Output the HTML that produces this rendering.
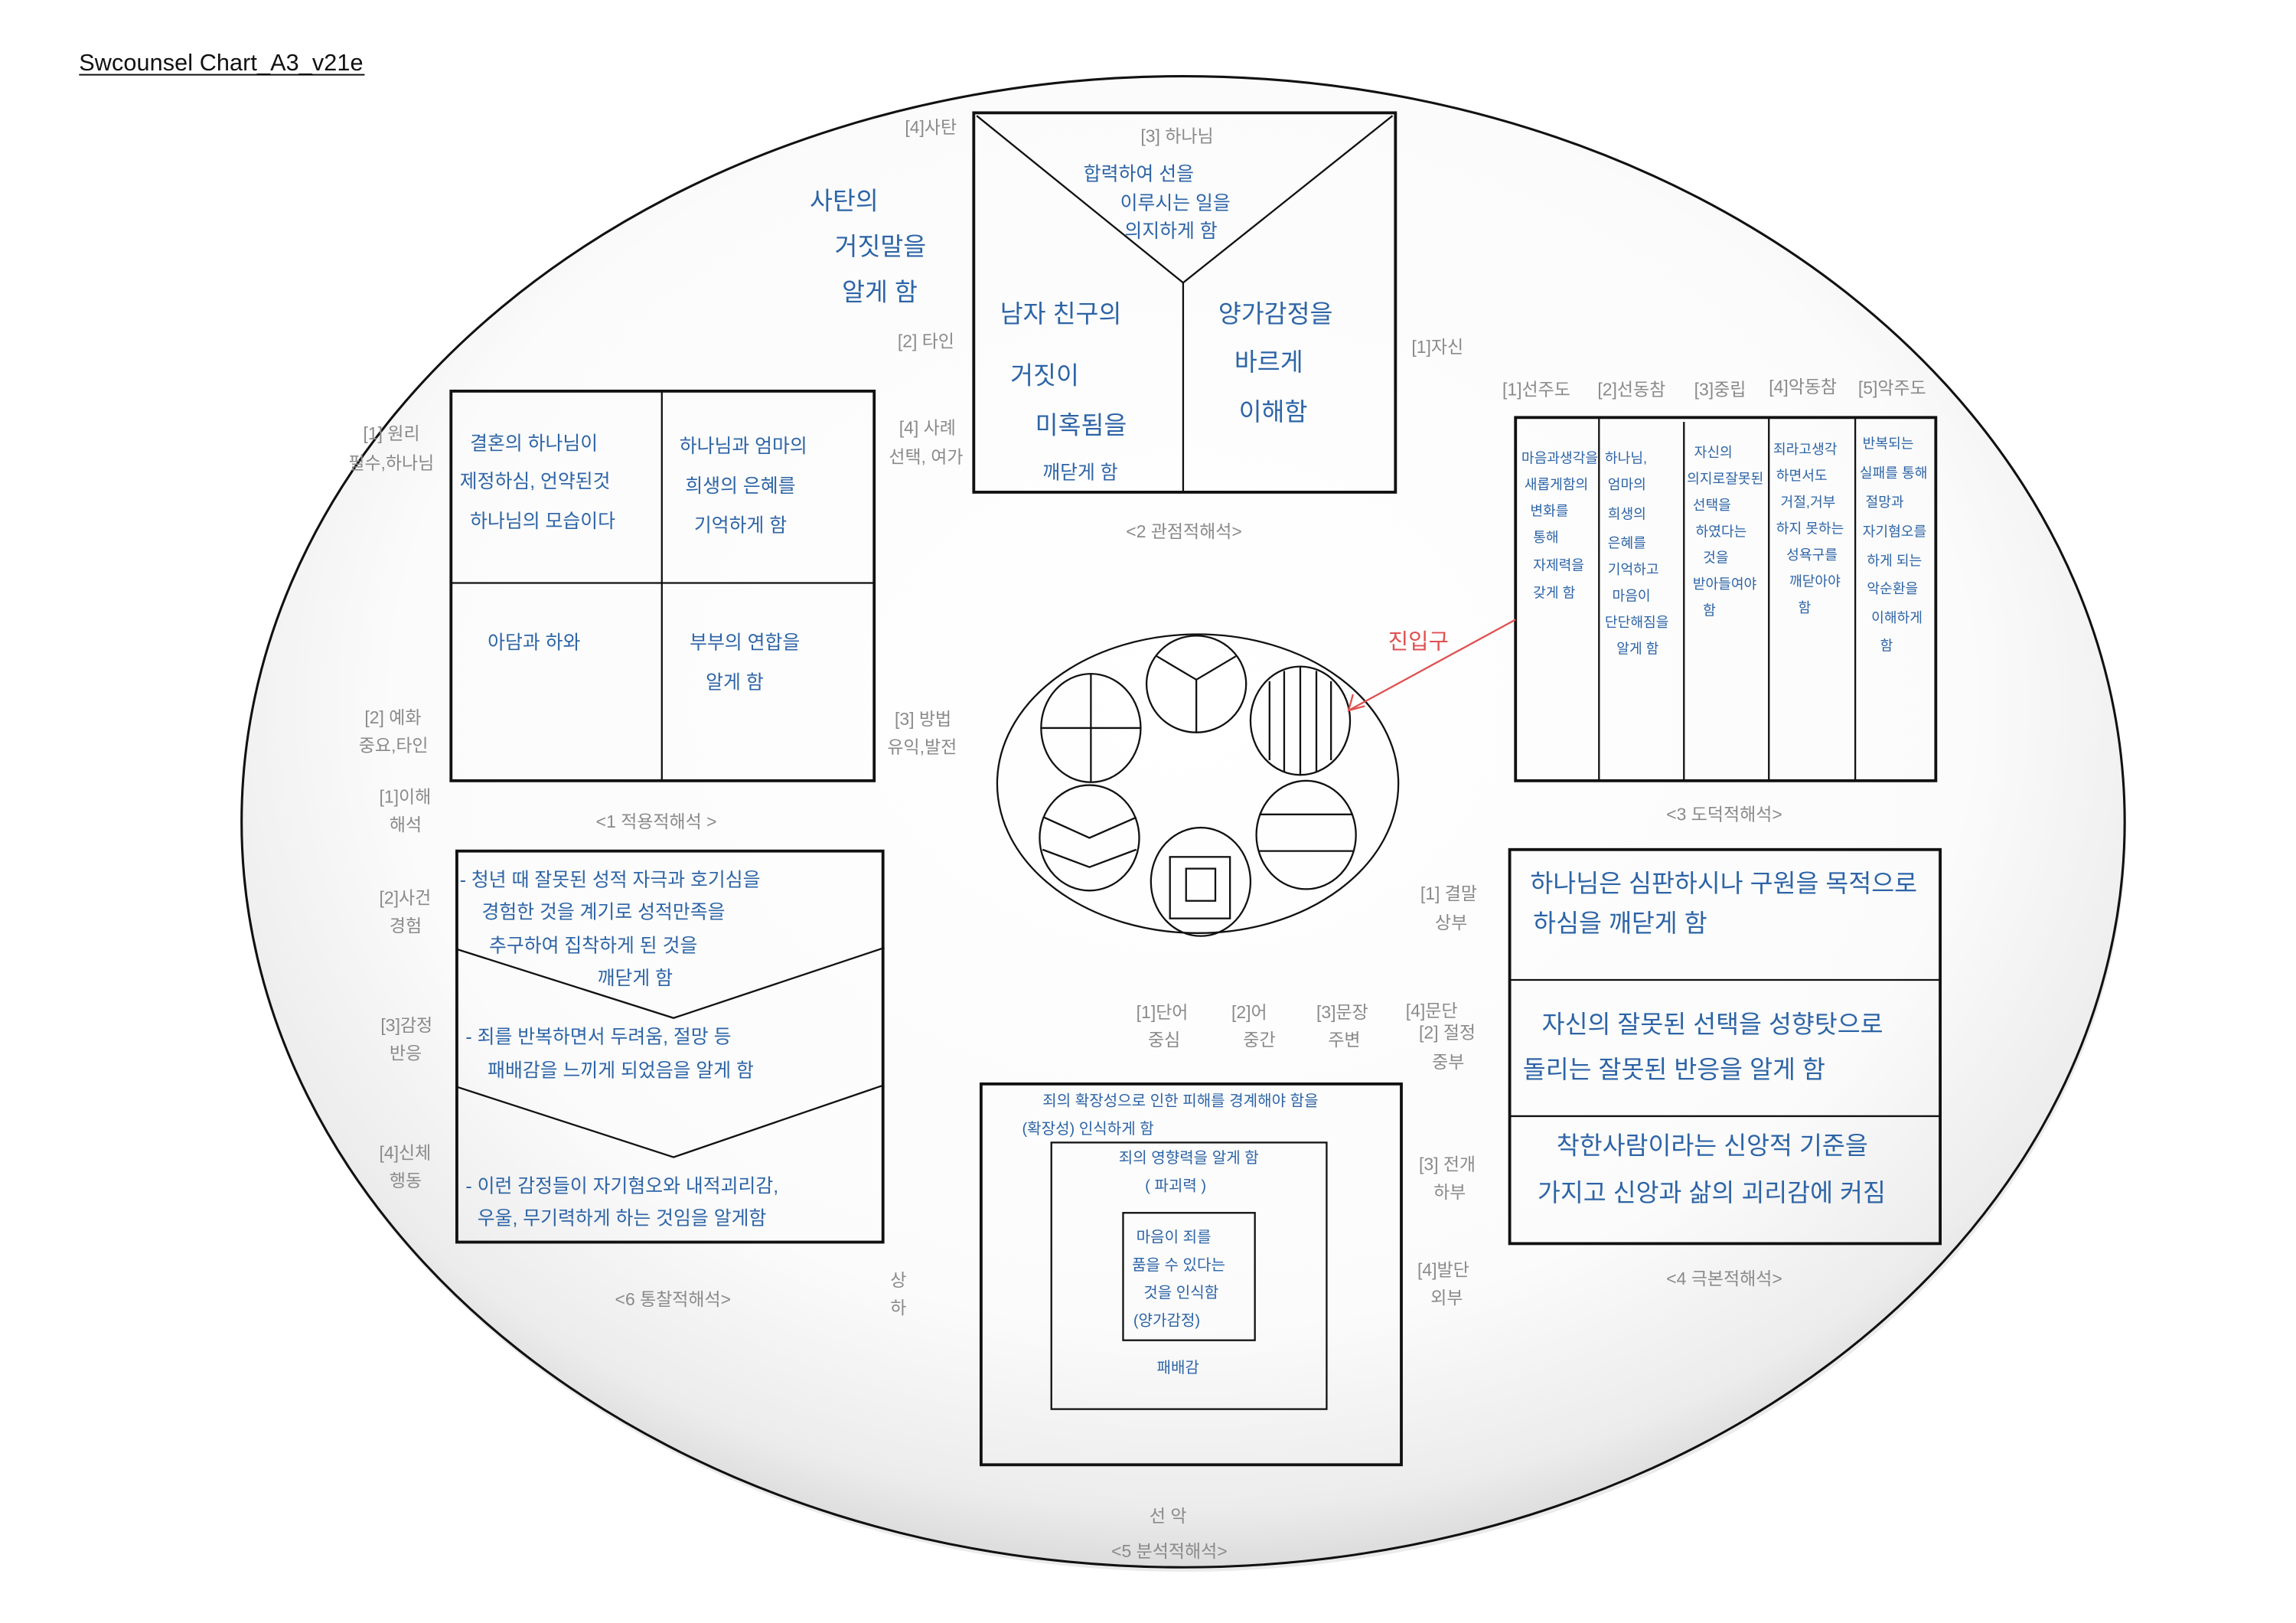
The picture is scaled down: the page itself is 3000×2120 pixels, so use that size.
<!DOCTYPE html>
<html><head><meta charset="utf-8"><style>
html,body{margin:0;padding:0;background:#fff;}
svg{display:block;}
.g{fill:#8a8a8a;font-family:"Liberation Sans","Noto Sans CJK KR",sans-serif;font-size:12px;}
.b{fill:#2d64a6;font-family:"Liberation Sans","Noto Sans CJK KR",sans-serif;font-size:17px;}
.s{font-size:10.5px;}
.t{font-size:9.5px;}
.m{font-size:13px;}
</style></head><body>
<svg width="3000" height="2120" viewBox="0 0 1568 1108" xmlns="http://www.w3.org/2000/svg">
<defs>
<radialGradient id="eg" cx="0.5" cy="0.42" r="0.6">
<stop offset="0" stop-color="#ffffff"/>
<stop offset="0.7" stop-color="#fbfbfb"/>
<stop offset="0.9" stop-color="#ececec"/>
<stop offset="1" stop-color="#d4d4d4"/>
</radialGradient>
</defs>
<rect width="1568" height="1108" fill="#fff"/>
<text x="54" y="48" font-family="Liberation Sans,sans-serif" font-size="16" fill="#111" textLength="194">Swcounsel Chart_A3_v21e</text>
<line x1="54" y1="51" x2="249" y2="51" stroke="#111" stroke-width="1"/>
<ellipse cx="809" cy="565" rx="643" ry="508" fill="#d8d8d8" opacity="0.5"/>
<ellipse cx="808" cy="561" rx="643" ry="509" fill="url(#eg)" stroke="#111" stroke-width="1.6"/>
<g fill="none" stroke="#111">
<rect x="665" y="77" width="288" height="259" stroke-width="2"/>
<polyline points="667,79 808,193 951,79" stroke-width="1.2"/>
<line x1="808" y1="193" x2="808" y2="336" stroke-width="1.2"/>
<rect x="308" y="267" width="289" height="266" stroke-width="2"/>
<line x1="452" y1="267" x2="452" y2="533" stroke-width="1.2"/>
<line x1="308" y1="398" x2="597" y2="398" stroke-width="1.2"/>
<rect x="1035" y="285" width="287" height="248" stroke-width="2"/>
<line x1="1092" y1="285" x2="1092" y2="533" stroke-width="1.2"/>
<line x1="1150" y1="288" x2="1150" y2="533" stroke-width="1.2"/>
<line x1="1208" y1="285" x2="1208" y2="533" stroke-width="1.2"/>
<line x1="1267" y1="285" x2="1267" y2="533" stroke-width="1.2"/>
<rect x="312" y="581" width="291" height="267" stroke-width="2"/>
<polyline points="312,648 460,695 604,647" stroke-width="1.2"/>
<polyline points="312,742 460,790 603,741" stroke-width="1.2"/>
<rect x="1031" y="580" width="294" height="269" stroke-width="2"/>
<line x1="1031" y1="669" x2="1325" y2="669" stroke-width="1.2"/>
<line x1="1031" y1="762" x2="1325" y2="762" stroke-width="1.2"/>
<rect x="670" y="740" width="287" height="260" stroke-width="2"/>
<rect x="718" y="780" width="188" height="182" stroke-width="1.2"/>
<rect x="767" y="828" width="90" height="87" stroke-width="1.2"/>
<ellipse cx="818" cy="535" rx="137" ry="102" stroke-width="1.2"/>
<g stroke-width="1.2">
<ellipse cx="745" cy="497" rx="34" ry="37"/>
<line x1="745" y1="460" x2="745" y2="534"/><line x1="711" y1="497" x2="779" y2="497"/>
<ellipse cx="817" cy="467" rx="34" ry="33"/>
<polyline points="790,448 817,464 844,448"/><line x1="817" y1="464" x2="817" y2="500"/>
<ellipse cx="888" cy="492" rx="34" ry="37"/>
<line x1="867" y1="465" x2="867" y2="519"/><line x1="877" y1="458" x2="877" y2="527"/><line x1="888" y1="455" x2="888" y2="529"/><line x1="899" y1="458" x2="899" y2="527"/><line x1="909" y1="465" x2="909" y2="519"/>
<ellipse cx="744" cy="572" rx="34" ry="36"/>
<polyline points="713,558 744,572 776,558"/><polyline points="712,580 744,592 776,580"/>
<ellipse cx="892" cy="570" rx="34" ry="37"/>
<line x1="860" y1="556" x2="924" y2="556"/><line x1="860" y1="581" x2="924" y2="581"/>
<ellipse cx="820" cy="602" rx="34" ry="37"/>
<rect x="799" y="585" width="41" height="42"/><rect x="810" y="593" width="20" height="22"/>
</g>
</g>
<line x1="1035" y1="423" x2="921" y2="485" stroke="#e05050" stroke-width="1.2"/>
<polyline points="924,474 921,485 932,482" fill="none" stroke="#e05050" stroke-width="1.2"/>
<text x="948" y="443" fill="#e05050" font-family="Liberation Sans,Noto Sans CJK KR,sans-serif" font-size="15">진입구</text>

<text class="g" x="618" y="91">[4]사탄</text>
<text class="g" x="779" y="97">[3] 하나님</text>
<text class="g" x="613" y="237">[2] 타인</text>
<text class="g" x="964" y="241">[1]자신</text>
<text class="g" x="614" y="296">[4] 사례</text>
<text class="g" x="607" y="316">선택, 여가</text>
<text class="g" x="769" y="367">&lt;2 관점적해석&gt;</text>
<text class="g" x="248" y="300">[1] 원리</text>
<text class="g" x="238" y="320">필수,하나님</text>
<text class="g" x="249" y="494">[2] 예화</text>
<text class="g" x="245" y="513">중요,타인</text>
<text class="g" x="611" y="495">[3] 방법</text>
<text class="g" x="606" y="514">유익,발전</text>
<text class="g" x="259" y="548">[1]이해</text>
<text class="g" x="266" y="567">해석</text>
<text class="g" x="407" y="565">&lt;1 적용적해석 &gt;</text>
<text class="g" x="1026" y="270">[1]선주도</text>
<text class="g" x="1091" y="270">[2]선동참</text>
<text class="g" x="1157" y="270">[3]중립</text>
<text class="g" x="1208" y="268">[4]악동참</text>
<text class="g" x="1269" y="269">[5]악주도</text>
<text class="g" x="1138" y="560">&lt;3 도덕적해석&gt;</text>
<text class="g" x="259" y="617">[2]사건</text>
<text class="g" x="266" y="636">경험</text>
<text class="g" x="260" y="704">[3]감정</text>
<text class="g" x="266" y="723">반응</text>
<text class="g" x="259" y="791">[4]신체</text>
<text class="g" x="266" y="810">행동</text>
<text class="g" x="420" y="891">&lt;6 통찰적해석&gt;</text>
<text class="g" x="608" y="878">상</text>
<text class="g" x="608" y="897">하</text>
<text class="g" x="776" y="695">[1]단어</text>
<text class="g" x="784" y="714">중심</text>
<text class="g" x="841" y="695">[2]어</text>
<text class="g" x="849" y="714">중간</text>
<text class="g" x="899" y="695">[3]문장</text>
<text class="g" x="907" y="714">주변</text>
<text class="g" x="960" y="694">[4]문단</text>
<text class="g" x="969" y="709">[2] 절정</text>
<text class="g" x="978" y="729">중부</text>
<text class="g" x="970" y="614">[1] 결말</text>
<text class="g" x="980" y="634">상부</text>
<text class="g" x="969" y="799">[3] 전개</text>
<text class="g" x="979" y="818">하부</text>
<text class="g" x="968" y="871">[4]발단</text>
<text class="g" x="977" y="890">외부</text>
<text class="g" x="1138" y="877">&lt;4 극본적해석&gt;</text>
<text class="g" x="785" y="1039">선 악</text>
<text class="g" x="759" y="1063">&lt;5 분석적해석&gt;</text>

<text class="b" x="553" y="143">사탄의</text>
<text class="b" x="570" y="174">거짓말을</text>
<text class="b" x="575" y="205">알게 함</text>
<text class="b m" x="740" y="123">합력하여 선을</text>
<text class="b m" x="765" y="143">이루시는 일을</text>
<text class="b m" x="768" y="162">의지하게 함</text>
<text class="b" x="683" y="220">남자 친구의</text>
<text class="b" x="690" y="262">거짓이</text>
<text class="b" x="707" y="296">미혹됨을</text>
<text class="b m" x="712" y="327">깨닫게 함</text>
<text class="b" x="832" y="220">양가감정을</text>
<text class="b" x="843" y="253">바르게</text>
<text class="b" x="846" y="287">이해함</text>
<text class="b m" x="321" y="307">결혼의 하나님이</text>
<text class="b m" x="314" y="333">제정하심, 언약된것</text>
<text class="b m" x="321" y="360">하나님의 모습이다</text>
<text class="b m" x="464" y="309">하나님과 엄마의</text>
<text class="b m" x="468" y="336">희생의 은혜를</text>
<text class="b m" x="474" y="363">기억하게 함</text>
<text class="b m" x="333" y="443">아담과 하와</text>
<text class="b m" x="471" y="443">부부의 연합을</text>
<text class="b m" x="482" y="470">알게 함</text>
<text class="b t" x="1039" y="316">마음과생각을</text>
<text class="b t" x="1041" y="334">새롭게함의</text>
<text class="b t" x="1045" y="352">변화를</text>
<text class="b t" x="1047" y="370">통해</text>
<text class="b t" x="1047" y="389">자제력을</text>
<text class="b t" x="1047" y="408">갖게 함</text>
<text class="b t" x="1096" y="316">하나님,</text>
<text class="b t" x="1098" y="334">엄마의</text>
<text class="b t" x="1098" y="354">희생의</text>
<text class="b t" x="1098" y="374">은혜를</text>
<text class="b t" x="1098" y="392">기억하고</text>
<text class="b t" x="1101" y="410">마음이</text>
<text class="b t" x="1096" y="428">단단해짐을</text>
<text class="b t" x="1104" y="446">알게 함</text>
<text class="b t" x="1157" y="312">자신의</text>
<text class="b t" x="1152" y="330">의지로잘못된</text>
<text class="b t" x="1156" y="348">선택을</text>
<text class="b t" x="1158" y="366">하였다는</text>
<text class="b t" x="1163" y="384">것을</text>
<text class="b t" x="1156" y="402">받아들여야</text>
<text class="b t" x="1163" y="420">함</text>
<text class="b t" x="1211" y="310">죄라고생각</text>
<text class="b t" x="1213" y="328">하면서도</text>
<text class="b t" x="1216" y="346">거절,거부</text>
<text class="b t" x="1213" y="364">하지 못하는</text>
<text class="b t" x="1220" y="382">성욕구를</text>
<text class="b t" x="1222" y="400">깨닫아야</text>
<text class="b t" x="1228" y="418">함</text>
<text class="b t" x="1272" y="306">반복되는</text>
<text class="b t" x="1270" y="326">실패를 통해</text>
<text class="b t" x="1274" y="346">절망과</text>
<text class="b t" x="1272" y="366">자기혐오를</text>
<text class="b t" x="1275" y="386">하게 되는</text>
<text class="b t" x="1275" y="405">악순환을</text>
<text class="b t" x="1278" y="425">이해하게</text>
<text class="b t" x="1284" y="444">함</text>
<text class="b m" x="314" y="605">- 청년 때 잘못된 성적 자극과 호기심을</text>
<text class="b m" x="329" y="627">경험한 것을 계기로 성적만족을</text>
<text class="b m" x="334" y="650">추구하여 집착하게 된 것을</text>
<text class="b m" x="408" y="672">깨닫게 함</text>
<text class="b m" x="318" y="712">- 죄를 반복하면서 두려움, 절망 등</text>
<text class="b m" x="333" y="735">패배감을 느끼게 되었음을 알게 함</text>
<text class="b m" x="318" y="814">- 이런 감정들이 자기혐오와 내적괴리감,</text>
<text class="b m" x="326" y="836">우울, 무기력하게 하는 것임을 알게함</text>
<text class="b" x="1045" y="609">하나님은 심판하시나 구원을 목적으로</text>
<text class="b" x="1047" y="636">하심을 깨닫게 함</text>
<text class="b" x="1053" y="705">자신의 잘못된 선택을 성향탓으로</text>
<text class="b" x="1040" y="736">돌리는 잘못된 반응을 알게 함</text>
<text class="b" x="1063" y="788">착한사람이라는 신앙적 기준을</text>
<text class="b" x="1050" y="820">가지고 신앙과 삶의 괴리감에 커짐</text>
<text class="b s" x="712" y="755">죄의 확장성으로 인한 피해를 경계해야 함을</text>
<text class="b s" x="698" y="774">(확장성) 인식하게 함</text>
<text class="b s" x="764" y="794">죄의 영향력을 알게 함</text>
<text class="b s" x="782" y="813">( 파괴력 )</text>
<text class="b s" x="776" y="848">마음이 죄를</text>
<text class="b s" x="773" y="867">품을 수 있다는</text>
<text class="b s" x="781" y="886">것을 인식함</text>
<text class="b s" x="774" y="905">(양가감정)</text>
<text class="b s" x="790" y="937">패배감</text>
</svg>
</body></html>
